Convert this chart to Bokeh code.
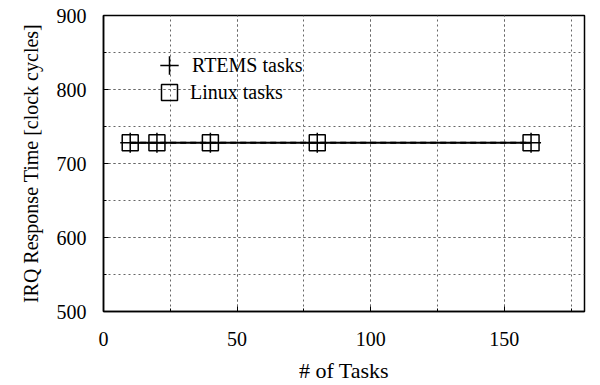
from bokeh.plotting import figure
from bokeh.models import SingleIntervalTicker, Legend, LegendItem, Range1d
from bokeh.embed import file_html
from bokeh.resources import INLINE

tasks = [10, 20, 40, 80, 160]
rtems_cycles = [728, 728, 728, 728, 728]
linux_cycles = [728, 728, 728, 728, 728]

FONT = "Liberation Serif"

p = figure(width=596, height=385, output_backend="svg", toolbar_location=None,
           x_range=Range1d(0, 180), y_range=Range1d(500, 900),
           min_border_left=103, min_border_right=12, min_border_top=15, min_border_bottom=73)
p.background_fill_color = "white"
p.border_fill_color = "white"
p.outline_line_color = "black"
p.outline_line_width = 1.5

xt = SingleIntervalTicker(interval=50, num_minor_ticks=2)
yt = SingleIntervalTicker(interval=100, num_minor_ticks=2)
p.xaxis.ticker = xt
p.yaxis.ticker = yt
p.xgrid.ticker = xt
p.ygrid.ticker = yt

for g in (p.xgrid, p.ygrid):
    g.grid_line_color = "#666666"
    g.grid_line_dash = "2 3"
    g.grid_line_width = 1
    g.minor_grid_line_color = "#666666"
    g.minor_grid_line_dash = "2 3"
    g.minor_grid_line_width = 1

for ax in (p.xaxis[0], p.yaxis[0]):
    ax.axis_line_color = "black"
    ax.axis_line_width = 1.5
    ax.major_tick_in = 5
    ax.major_tick_out = 0
    ax.minor_tick_in = 3
    ax.minor_tick_out = 0
    ax.major_label_text_font = FONT
    ax.major_label_text_font_size = "20px"
    ax.major_label_text_color = "black"
    ax.axis_label_text_font = FONT
    ax.axis_label_text_font_style = "normal"
    ax.axis_label_text_color = "black"

p.xaxis.axis_label = "# of Tasks"
p.yaxis.axis_label = "IRQ Response Time [clock cycles]"
p.xaxis.axis_label_text_font_size = "22px"
p.yaxis.axis_label_text_font_size = "20px"
p.xaxis.major_label_standoff = 20
p.yaxis.major_label_standoff = 17
p.xaxis.axis_label_standoff = 9
p.yaxis.axis_label_standoff = 12

r1 = p.line(tasks, rtems_cycles, line_color="black", line_width=2)
m1 = p.scatter(tasks, rtems_cycles, marker="cross", size=20, line_color="black", line_width=1.5)
r2 = p.line(tasks, linux_cycles, line_color="black", line_width=2, line_dash="6 4")
m2 = p.scatter(tasks, linux_cycles, marker="square", size=16, fill_color=None,
               line_color="black", line_width=1.5)

common = dict(border_line_color=None, background_fill_alpha=0, padding=0, margin=0,
              label_text_font=FONT, label_text_font_size="20px", label_text_color="black")
legend1 = Legend(items=[LegendItem(label="RTEMS tasks", renderers=[m1])],
                 location=(43, 223), glyph_width=46, glyph_height=46,
                 label_standoff=0, **common)
legend2 = Legend(items=[LegendItem(label="Linux tasks", renderers=[m2])],
                 location=(46, 199), glyph_width=40, glyph_height=40,
                 label_standoff=1, **common)
p.add_layout(legend1)
p.add_layout(legend2)

open("out.html", "w").write(file_html(p, INLINE))
